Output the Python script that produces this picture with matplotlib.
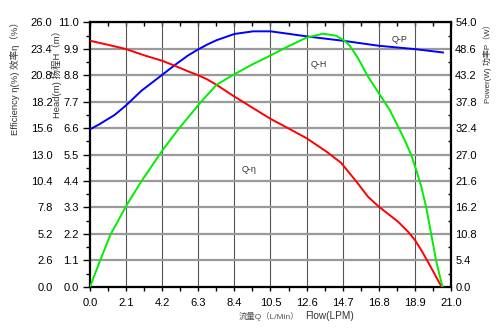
import numpy as np
import matplotlib
matplotlib.use("Agg")
import matplotlib.pyplot as plt
from matplotlib.ticker import MultipleLocator

plt.rcParams['font.family'] = ['Liberation Sans', 'Noto Sans CJK SC', 'DejaVu Sans']

# Head curve (m)
q_head = [0.0, 0.56, 1.43, 2.1, 2.98, 4.2, 4.96, 5.69, 6.3, 6.82, 7.36, 8.4, 9.49, 10.5,
          11.52, 12.6, 13.75, 14.7, 16.8, 18.9, 20.53]
head = [6.55, 6.77, 7.15, 7.55, 8.15, 8.82, 9.24, 9.62, 9.88, 10.08, 10.26, 10.52, 10.63, 10.63,
        10.53, 10.42, 10.32, 10.24, 10.03, 9.89, 9.75]

# Efficiency curve (%)
q_eff = [0.0, 1.05, 2.1, 3.18, 4.2, 4.96, 5.69, 6.3, 6.82, 7.36, 8.4, 9.49, 10.5, 11.52, 12.6,
         13.75, 14.6, 15.5, 16.17, 16.8, 17.92, 18.5, 18.9, 19.27, 19.76, 20.45]
eff = [24.2, 23.8, 23.38, 22.75, 22.23, 21.72, 21.2, 20.8, 20.4, 19.86, 18.71, 17.57, 16.52,
       15.6, 14.61, 13.3, 12.2, 10.34, 8.86, 7.88, 6.4, 5.42, 4.6, 3.61, 2.14, 0.0]

# Power curve (W)
q_pow = [0.0, 0.56, 1.18, 2.1, 2.98, 4.2, 5.11, 6.39, 7.36, 8.4, 9.49, 10.5, 11.52, 12.6, 13.56,
         14.3, 14.8, 15.1, 15.59, 16.17, 16.8, 17.43, 17.97, 18.3, 18.69, 18.98, 19.27, 19.56,
         19.85, 20.14, 20.5]
power = [0.0, 5.1, 10.57, 16.5, 21.5, 27.8, 32.05, 37.5, 41.26, 43.44, 45.5, 47.25, 49.1, 50.9,
         51.7, 51.3, 50.3, 49.3, 46.7, 42.95, 39.55, 36.15, 32.4, 30.0, 26.9, 23.86, 20.45, 16.16,
         10.72, 5.26, 0.0]

x_ticks = [round(2.1 * i, 1) for i in range(11)]
head_ticks = [round(1.1 * i, 1) for i in range(11)]
eff_ticks = [round(2.6 * i, 1) for i in range(11)]
pow_ticks = [round(5.4 * i, 1) for i in range(11)]

fig = plt.figure(figsize=(5, 3.3), dpi=100)
ax = fig.add_axes([0.18, 0.131, 0.722, 0.801])

ax.set_xlim(0, 21)
ax.set_ylim(0, 11)
ax.set_xticks(x_ticks)
ax.set_xticklabels([f"{v:.1f}" for v in x_ticks])
ax.set_yticks(head_ticks)
ax.set_yticklabels([f"{v:.1f}" for v in head_ticks])
ax.xaxis.set_minor_locator(MultipleLocator(1.05))
ax.yaxis.set_minor_locator(MultipleLocator(0.55))

for x in x_ticks[1:-1]:
    ax.axvline(x, color='#555555', lw=0.8, zorder=1)
for y in head_ticks[1:-1]:
    ax.axhline(y, color='#9a9a9a', lw=1.6, zorder=1)

ax.tick_params(axis='x', which='major', direction='out', length=3, width=1, pad=5, labelsize=8)
ax.tick_params(axis='x', which='minor', direction='out', length=3, width=1)
ax.tick_params(axis='y', which='major', direction='out', length=5, width=1, pad=3, labelsize=8)
ax.tick_params(axis='y', which='minor', direction='out', length=3, width=1)
for s in ax.spines.values():
    s.set_linewidth(1.6)

# top ticks pointing inward
axt = ax.secondary_xaxis('top')
axt.set_xticks(x_ticks)
axt.xaxis.set_minor_locator(MultipleLocator(1.05))
axt.tick_params(which='both', direction='in', length=3, width=1, labeltop=False)

ax.plot(q_head, head, color='#0000ff', lw=1.4, zorder=5)

# efficiency axis (labels on the left, further out)
ax_e = ax.twinx()
ax_e.set_ylim(0, 26)
ax_e.yaxis.tick_left()
ax_e.set_yticks(eff_ticks)
ax_e.set_yticklabels([f"{v:.1f}" for v in eff_ticks])
ax_e.tick_params(axis='y', length=0, pad=27, labelsize=8)
for s in ax_e.spines.values():
    s.set_visible(False)
ax_e.plot(q_eff, eff, color='#ff0000', lw=1.4, zorder=5)

# power axis on the right
ax_p = ax.twinx()
ax_p.set_ylim(0, 54)
ax_p.set_yticks(pow_ticks)
ax_p.set_yticklabels([f"{v:.1f}" for v in pow_ticks])
ax_p.yaxis.set_minor_locator(MultipleLocator(2.7))
ax_p.tick_params(axis='y', which='major', direction='in', length=0, pad=3, labelsize=8)
ax_p.tick_params(axis='y', which='minor', direction='in', length=2.5, width=1)
for s in ax_p.spines.values():
    s.set_visible(False)
ax_p.plot(q_pow, power, color='#00ee00', lw=1.4, zorder=5)

# curve labels
ax.text(18.0, 10.27, 'Q-P', fontsize=6.5, color='#333333', ha='center', va='center')
ax.text(13.3, 9.27, 'Q-H', fontsize=6.5, color='#333333', ha='center', va='center')
ax.text(9.27, 4.86, 'Q-η', fontsize=6.5, color='#333333', ha='center', va='center')

# axis titles
fig.text(15 / 500, 1 - 76 / 330, 'Efficiency η(%) 效率η（%）', rotation=90, fontsize=6.8,
         color='#333333', ha='center', va='center')
fig.text(57 / 500, 1 - 72 / 330, 'Head(m) 扬程H（m）', rotation=90, fontsize=6.8,
         color='#333333', ha='center', va='center')
fig.text(487 / 500, 1 - 62 / 330, 'Power(W) 功率P（W）', rotation=90, fontsize=5.8,
         color='#333333', ha='center', va='center')
fig.text(269 / 500, 1 - 316 / 330, '流量Q（L/Min）', fontsize=6, color='#555555', ha='center', va='center')
fig.text(329 / 500, 1 - 316 / 330, 'Flow(LPM)', fontsize=7.2, color='#333333', ha='center', va='center')

fig.savefig('out.png', dpi=100)
